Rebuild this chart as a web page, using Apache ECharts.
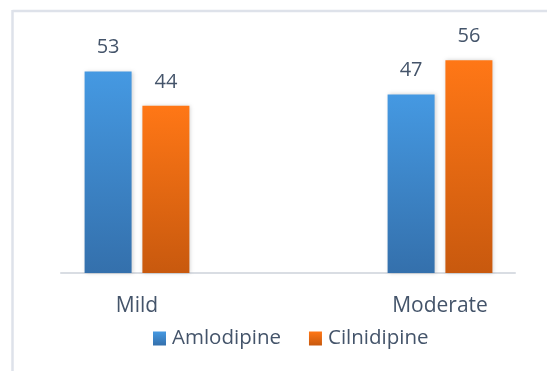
<!DOCTYPE html>
<html>
<head>
<meta charset="utf-8">
<script src="https://cdn.jsdelivr.net/npm/echarts@6/dist/echarts.min.js"></script>
<style>html,body{margin:0;padding:0;background:#fff}#c{width:547px;height:371px}</style>
</head>
<body>
<div id="c"></div>
<script>
const categories = ['Mild', 'Moderate'];
const categoryPositions = [0, 1];
const amlodipine = [53, 47];
const cilnidipine = [44, 56];
const seriesNames = ['Amlodipine', 'Cilnidipine'];

const FONT = '"Open Sans", "DejaVu Sans", sans-serif';
const TEXT = '#44546A';

function grad(top, bottom) {
  return new echarts.graphic.LinearGradient(0, 0, 0, 1, [
    { offset: 0, color: top }, { offset: 1, color: bottom }
  ]);
}
function pairs(vals) {
  return vals.map((v, i) => [categoryPositions[i], v]);
}

const chart = echarts.init(document.getElementById('c'), null, { renderer: 'canvas' });
chart.setOption({
  animation: false,
  backgroundColor: '#ffffff',
  textStyle: { fontFamily: FONT },
  grid: { left: 61, right: 32, top: 45, bottom: 98 },
  xAxis: {
    type: 'value', min: -0.2508, max: 1.2475,
    axisLine: { show: true, lineStyle: { color: '#D9DDE3', width: 2 } },
    axisTick: { show: false },
    splitLine: { show: false },
    axisLabel: {
      customValues: categoryPositions,
      formatter: v => categories[Math.round(v)],
      color: TEXT, fontSize: 21, fontFamily: FONT, margin: 23
    }
  },
  yAxis: { type: 'value', min: 0, max: 60, show: false, splitLine: { show: false } },
  legend: {
    left: 148, top: 323,
    itemWidth: 13, itemHeight: 14, itemGap: 28,
    icon: 'rect',
    textStyle: { color: TEXT, fontSize: 20.5, fontFamily: FONT, padding: [0, 0, 0, 1] },
    data: seriesNames
  },
  series: [
    {
      name: seriesNames[0], type: 'bar',
      data: pairs(amlodipine), barWidth: 47, barGap: '23%',
      itemStyle: {
        color: grad('#4599E2', '#3470AC'),
        shadowBlur: 4, shadowColor: 'rgba(0,0,0,0.18)', shadowOffsetX: 1
      },
      label: { show: true, position: 'top', distance: 14, formatter: p => p.value[1], color: TEXT, fontSize: 20, fontFamily: FONT }
    },
    {
      name: seriesNames[1], type: 'bar',
      data: pairs(cilnidipine), barWidth: 47, barGap: '23%',
      itemStyle: {
        color: grad('#FF7716', '#C8590E'),
        shadowBlur: 4, shadowColor: 'rgba(0,0,0,0.18)', shadowOffsetX: 1
      },
      label: { show: true, position: 'top', distance: 14, formatter: p => p.value[1], color: TEXT, fontSize: 20, fontFamily: FONT }
    }
  ],
  graphic: [
    { type: 'line', shape: { x1: 12.5, y1: 11, x2: 547, y2: 11 }, style: { stroke: '#DEE2EA', lineWidth: 2.5 } },
    { type: 'line', shape: { x1: 12.5, y1: 10, x2: 12.5, y2: 371 }, style: { stroke: '#DEE2EA', lineWidth: 2.5 } }
  ]
});
</script>
</body>
</html>
